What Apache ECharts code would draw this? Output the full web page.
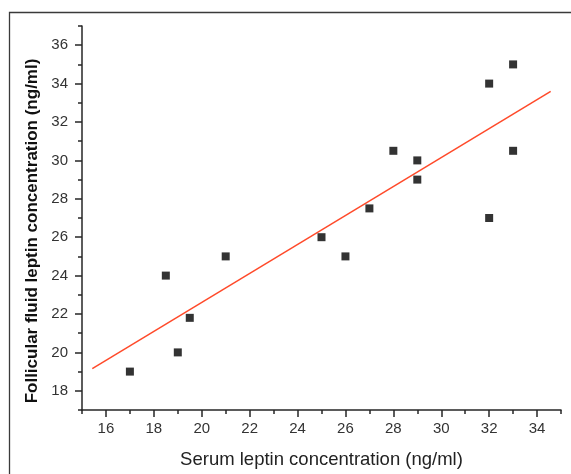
<!DOCTYPE html>
<html>
<head>
<meta charset="utf-8">
<script src="https://cdn.jsdelivr.net/npm/echarts@6/dist/echarts.min.js"></script>
<style>html,body{margin:0;padding:0;background:#fff;}#c{width:571px;height:474px;}</style>
</head>
<body>
<div id="c"></div>
<script>
// Data
const serumX = [17, 18.5, 19, 19.5, 21, 25, 26, 27, 28, 29, 29, 32, 32, 33, 33];
const follicularY = [19, 24, 20, 21.8, 25, 26, 25, 27.5, 30.5, 30, 29, 34, 27, 35, 30.5];
const fitX = [15.43, 34.57];
const fitY = [19.15, 33.6];
const xTicks = [16, 18, 20, 22, 24, 26, 28, 30, 32, 34];
const xMinorTicks = [15, 17, 19, 21, 23, 25, 27, 29, 31, 33, 35];
const yTicks = [18, 20, 22, 24, 26, 28, 30, 32, 34, 36];
const yMinorTicks = [17, 19, 21, 23, 25, 27, 29, 31, 33, 35, 37];
const xTitle = 'Serum leptin concentration (ng/ml)';
const yTitle = 'Follicular fluid leptin concentration (ng/ml)';

const font = "'Liberation Sans', Arial, sans-serif";
const axisCol = '#262626';
const chart = echarts.init(document.getElementById('c'), null, {renderer: 'canvas'});

const baseX = {type: 'value', min: 15, max: 35, position: 'bottom', splitLine: {show: false}};
const baseY = {type: 'value', min: 17, max: 37, position: 'left', splitLine: {show: false}};

chart.setOption({
  animation: false,
  backgroundColor: '#fff',
  grid: {left: 82, top: 26, right: 10, bottom: 60, containLabel: false},
  graphic: [{
    type: 'rect', silent: true,
    shape: {x: 9.5, y: 12.5, width: 620, height: 520},
    style: {fill: 'none', stroke: '#3a3a3a', lineWidth: 1.3}
  }],
  xAxis: [
    Object.assign({}, baseX, {
      name: xTitle, nameLocation: 'middle', nameGap: 40,
      nameTextStyle: {fontFamily: font, fontSize: 18.5, color: '#222'},
      axisLine: {show: true, onZero: false, lineStyle: {color: axisCol, width: 1.5}},
      axisTick: {show: true, customValues: xTicks, length: 7, lineStyle: {color: axisCol, width: 1.5}},
      axisLabel: {customValues: xTicks, margin: 11, fontFamily: font, fontSize: 15, color: '#333'}
    }),
    Object.assign({}, baseX, {
      axisLine: {show: false, onZero: false},
      axisTick: {show: true, customValues: xMinorTicks, length: 4, lineStyle: {color: axisCol, width: 1.5}},
      axisLabel: {show: false}
    })
  ],
  yAxis: [
    Object.assign({}, baseY, {
      name: yTitle, nameLocation: 'middle', nameGap: 33, nameRotate: 90,
      nameTextStyle: {fontFamily: font, fontSize: 17, fontWeight: 'bold', color: '#111', padding: [0, 26, 0, 0]},
      axisLine: {show: true, onZero: false, lineStyle: {color: axisCol, width: 1.5}},
      axisTick: {show: true, customValues: yTicks, length: 7, lineStyle: {color: axisCol, width: 1.5}},
      axisLabel: {customValues: yTicks, margin: 14, fontFamily: font, fontSize: 15, color: '#333'}
    }),
    Object.assign({}, baseY, {
      axisLine: {show: false, onZero: false},
      axisTick: {show: true, customValues: yMinorTicks, length: 4, lineStyle: {color: axisCol, width: 1.5}},
      axisLabel: {show: false}
    })
  ],
  series: [
    {
      type: 'line',
      data: fitX.map((x, i) => [x, fitY[i]]),
      showSymbol: false, symbol: 'none',
      lineStyle: {color: '#ff4a2a', width: 1.5},
      z: 2
    },
    {
      type: 'scatter',
      data: serumX.map((x, i) => [x, follicularY[i]]),
      symbol: 'rect', symbolSize: 8,
      itemStyle: {color: '#000'},
      z: 3
    }
  ]
});
</script>
</body>
</html>
